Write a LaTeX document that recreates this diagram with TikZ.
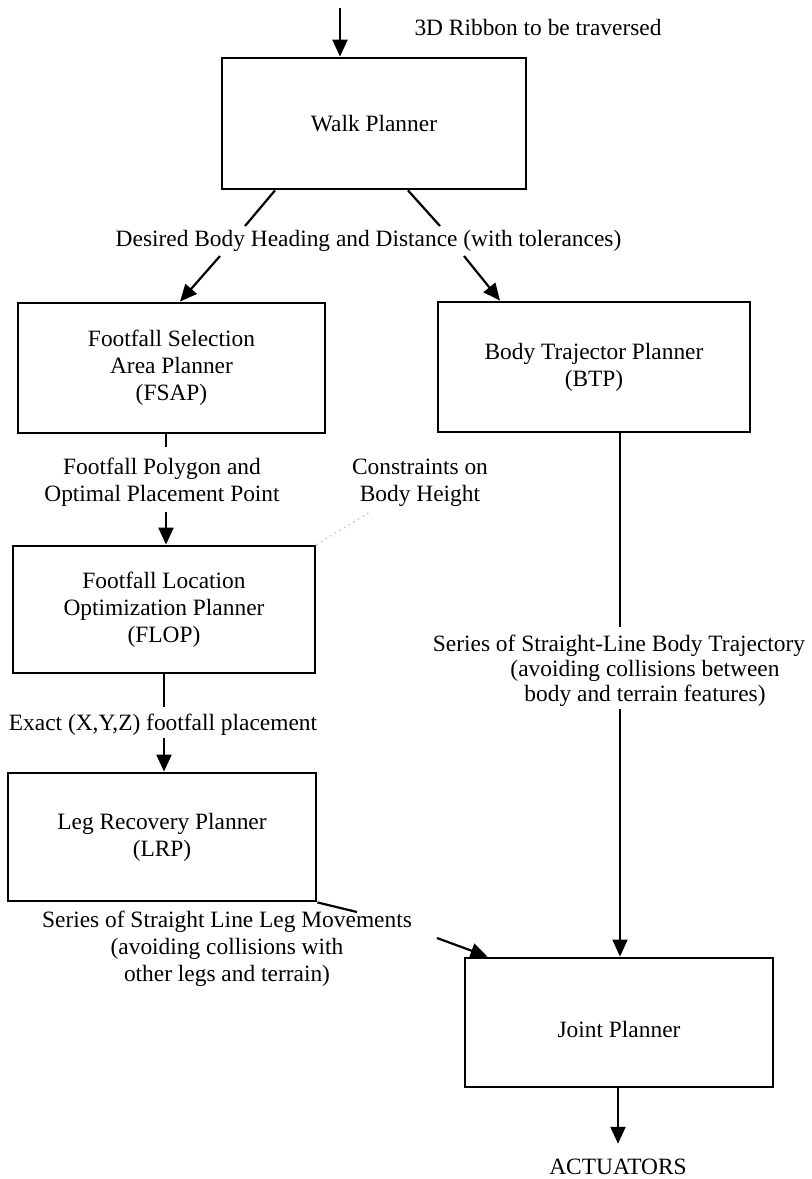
\documentclass[tikz,border=0pt]{standalone}
\usepackage{fontspec}
\setmainfont{Liberation Serif}
\usetikzlibrary{arrows.meta,calc}
\newcommand{\fsz}{\fontsize{11.7pt}{13.6pt}\selectfont}
\newcommand{\fszt}{\fontsize{11.7pt}{12.6pt}\selectfont}
\begin{document}
\begin{tikzpicture}[x=0.5pt,y=-0.5pt,
  box/.style={draw,line width=1.4pt,inner sep=0pt,align=center,font=\fsz},
  lbl/.style={inner sep=0pt,align=center,font=\fsz},
  conn/.style={line width=1.1pt},
  thinconn/.style={line width=0.8pt},
  arr/.style={-{Triangle[width=7.5pt,length=8.5pt]}},
  faint/.style={gray!45,dotted,line width=0.7pt}
]
\useasboundingbox[fill=white] (0,0) rectangle (812,1179);

% boxes
\node[box,minimum width=152pt,minimum height=65.5pt] (walk) at (374,123.5) {Walk Planner};
\node[box,minimum width=153.5pt,minimum height=65pt] (fsap) at (171.5,368) {Footfall Selection\\Area Planner\\(FSAP)};
\node[box,minimum width=156pt,minimum height=65pt] (btp) at (594,367) {Body Trajector Planner\\(BTP)};
\node[box,minimum width=151pt,minimum height=63.5pt] (flop) at (164,609.5) {Footfall Location\\Optimization Planner\\(FLOP)};
\node[box,minimum width=154pt,minimum height=64pt] (lrp) at (162,837) {Leg Recovery Planner\\(LRP)};
\node[box,minimum width=154pt,minimum height=64.5pt,text height=15pt,text depth=0pt] (joint) at (619,1022.5) {Joint Planner};

% labels
\node[lbl] (ribbon) at (538,27) {3D Ribbon to be traversed};
\node[lbl] (desired) at (368.5,241) {Desired Body Heading and Distance (with tolerances)};
\node[lbl] (polygon) at (162,482) {Footfall Polygon and\\Optimal Placement Point};
\node[lbl] (constr) at (420,483) {Constraints on\\Body Height};
\node[lbl] (exact) at (163,725) {Exact (X,Y,Z) footfall placement};
\node[lbl] (legmov) at (227,949) {Series of Straight Line Leg Movements\\(avoiding collisions with\\other legs and terrain)};
\node[lbl,font=\fszt] (bodytraj) at (645,671) {Series of Straight-Line Body Trajectory\hspace*{26pt}\\(avoiding collisions between\\body and terrain features)};
\node[lbl] (act) at (618,1167) {ACTUATORS};

% coordinates
\coordinate (in) at (340,8);
\coordinate (wl0) at ($(walk.south)+(-99,0)$);
\coordinate (wl1) at (245,226);
\coordinate (wl2) at (220,256);
\coordinate (wr0) at ($(walk.south)+(34,0)$);
\coordinate (wr1) at (440,226);
\coordinate (wr2) at (464,256);
\coordinate (fx) at (166,0);
\coordinate (p1) at (166,447);
\coordinate (p2) at (166,512);
\coordinate (ex) at (164,0);
\coordinate (e1) at (164,707);
\coordinate (e2) at (164,738);
\coordinate (bx) at (620,0);
\coordinate (b1) at (620,627);
\coordinate (b2) at (620,709);
\coordinate (g1) at (357,912);
\coordinate (g2) at (437,938);
\coordinate (c1) at (370,512);

% connectors
\draw[conn,arr] (in) -- (in |- walk.north);
\draw[conn] (wl0) -- (wl1);
\draw[conn,arr] (wl2) -- ($(fsap.north)+(8.5,0)$);
\draw[conn] (wr0) -- (wr1);
\draw[conn,arr] (wr2) -- ($(btp.north)+(-94,0)$);
\draw[conn] (fsap.south -| fx) -- (p1);
\draw[conn,arr] (p2) -- (flop.north -| fx);
\draw[conn] (flop.south -| ex) -- (e1);
\draw[conn,arr] (e2) -- (lrp.north -| ex);
\draw[thinconn] (btp.south -| bx) -- (b1);
\draw[thinconn,arr] (b2) -- (joint.north -| bx);
\draw[conn] (lrp.south east) -- (g1);
\draw[conn,arr] (g2) -- ($(joint.north west)+(24,0)$);
\draw[conn,arr] (joint.south -| act) -- ([yshift=7.5pt]act.north);
\draw[faint] (flop.north east) -- (c1);
\end{tikzpicture}
\end{document}
